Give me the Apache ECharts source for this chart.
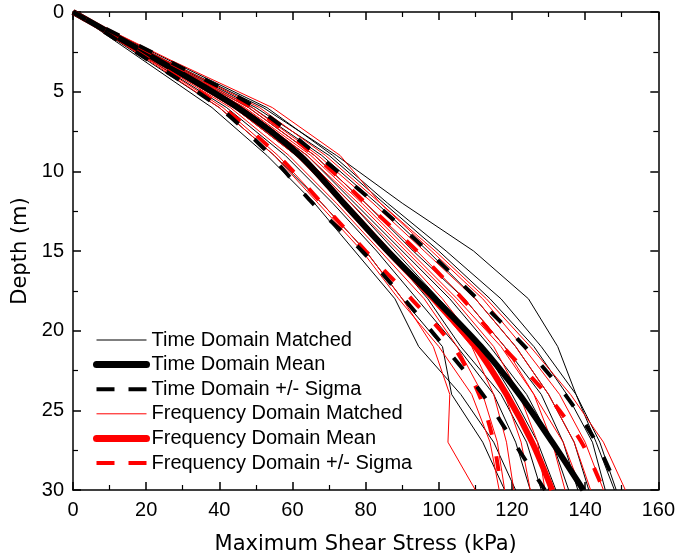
<!DOCTYPE html>
<html>
<head>
<meta charset="utf-8">
<script src="https://cdn.jsdelivr.net/npm/echarts@6/dist/echarts.min.js"></script>
<style>
html,body{margin:0;padding:0;background:#fff;}
#chart{width:678px;height:560px;}
</style>
</head>
<body>
<div id="chart"></div>
<script>
// Depths (m) at which each profile is sampled
const depths = [0, 3, 6, 9, 12, 15, 18, 21, 24, 27, 30];

// Time domain matched profiles (max shear stress, kPa)
const td1  = [0, 25, 52, 72, 90, 109.5, 124.5, 132.5, 137.5, 143, 148];
const td2  = [0, 19, 38, 53, 66, 77, 88, 94.5, 106, 115, 121];
const td3  = [0, 20, 40, 55, 68, 80, 90, 101, 103.5, 112, 118];
const td4  = [0, 21, 42, 58, 71, 83, 94, 105, 115, 121, 125];
const td5  = [0, 22, 44, 61, 74, 86, 97, 106, 117, 124, 128];
const td6  = [0, 22.5, 45, 63, 76, 88, 100, 112, 120, 127, 132];
const td7  = [0, 23, 46, 64, 77, 90, 103, 114, 124, 131, 135.5];
const td8  = [0, 24, 48, 66, 80, 93, 107, 118, 128, 134, 138];
const td9  = [0, 24.5, 49, 68, 83, 97, 110, 121, 130, 137, 141];
const td10 = [0, 25, 50, 70, 85, 100, 114, 126, 135, 142, 145.5];
const td11 = [0, 26, 53, 71, 86, 102, 117, 128, 137.5, 144, 148.5];

// Frequency domain matched profiles (kPa)
const fd1  = [0, 21, 41, 56, 68, 80, 90, 98.5, 103, 102.5, 110];
const fd2  = [0, 20.5, 40, 55, 67, 79, 89, 100, 109, 114, 116.5];
const fd3  = [0, 21.5, 43, 59, 72, 84, 96, 105, 112, 116, 118];
const fd4  = [0, 22, 44, 61, 74, 86, 98, 109, 115, 118.5, 120.5];
const fd5  = [0, 22.5, 45.5, 63, 76, 89, 101, 111, 118, 122.5, 125];
const fd6  = [0, 23, 46.5, 64, 78, 91, 104, 115, 122, 127, 129];
const fd7  = [0, 24, 48, 66, 80, 94, 107, 118, 126, 131, 134.5];
const fd8  = [0, 24.5, 49, 67, 82, 96, 110, 121, 130, 137, 141.5];
const fd9  = [0, 25, 51, 69, 84, 98, 112, 123, 133, 140, 145];
const fd10 = [0, 26.5, 54.5, 73, 84, 99, 113, 125, 136, 145, 151];
const fd11 = [0, 23.5, 47, 65, 79, 92, 105, 117, 126, 134, 139];

// Means and +/- sigma (kPa)
const tdMean  = [0, 23, 45, 62, 74, 86, 99, 111.5, 122, 131, 139.5];
const tdLower = [0, 20.5, 40, 54, 65.5, 79, 90.5, 101.5, 112, 120.5, 129];
const tdUpper = [0, 25.5, 50, 67, 82.5, 97, 110.5, 123.5, 134.5, 143, 149];
const fdMean  = [0, 23, 45, 62, 74, 86, 98.5, 110, 118.5, 125.5, 131];
const fdLower = [0, 21, 41, 56, 68, 80, 92.5, 104, 111, 115, 117];
const fdUpper = [0, 25, 49, 66, 80, 94, 106.5, 117.5, 129.5, 139, 145];

// Axis ticks
const xTicks = {min: 0, max: 160, interval: 20};
const yTicks = {min: 0, max: 30, interval: 5};

const names = ['Time Domain Matched', 'Time Domain Mean', 'Time Domain +/- Sigma',
               'Frequency Domain Matched', 'Frequency Domain Mean', 'Frequency Domain +/- Sigma'];

const DASH = [15, 22];

function pts(vals) { return vals.map((v, i) => [v, depths[i]]); }
function mk(name, vals, color, width, type, smooth, z) {
  return {
    type: 'line', name: name, data: pts(vals), symbol: 'none', showSymbol: false,
    smooth: smooth, z: z,
    lineStyle: {color: color, width: width, type: type, cap: 'butt'},
    itemStyle: {color: color},
    emphasis: {disabled: true}, silent: true, clip: true
  };
}

const series = [];
[td1, td2, td3, td4, td5, td6, td7, td8, td9, td10, td11].forEach(a => series.push(mk(names[0], a, '#000', 1, 'solid', false, 2)));
[fd1, fd2, fd3, fd4, fd5, fd6, fd7, fd8, fd9, fd10, fd11].forEach(a => series.push(mk(names[3], a, '#ff0000', 1, 'solid', false, 3)));
series.push(mk(names[4], fdMean, '#ff0000', 6, 'solid', 0.3, 4));
series.push(mk(names[1], tdMean, '#000', 6, 'solid', 0.3, 5));
series.push(mk(names[5], fdLower, '#ff0000', 4, DASH, 0.3, 6));
series.push(mk(names[5], fdUpper, '#ff0000', 4, DASH, 0.3, 6));
series.push(mk(names[2], tdLower, '#000', 4, DASH, 0.3, 7));
series.push(mk(names[2], tdUpper, '#000', 4, DASH, 0.3, 7));

const axisLineStyle = {color: '#000', width: 1.5};
const tickFont = {fontFamily: 'Liberation Sans, Arial, sans-serif', fontSize: 20, color: '#000'};
const noSym = {color: 'rgba(0,0,0,0)', borderColor: 'rgba(0,0,0,0)', borderWidth: 0};

const chart = echarts.init(document.getElementById('chart'), null, {renderer: 'canvas'});
chart.setOption({
  animation: false,
  backgroundColor: '#fff',
  grid: {left: 73, right: 18, top: 12, bottom: 69, containLabel: false},
  legend: {
    data: [
      {name: names[0], itemStyle: noSym, lineStyle: {color: '#000', width: 1, type: 'solid'}},
      {name: names[1], itemStyle: noSym, lineStyle: {color: '#000', width: 7, type: 'solid', cap: 'round'}},
      {name: names[2], itemStyle: noSym, lineStyle: {color: '#000', width: 4, type: [18, 14]}},
      {name: names[3], itemStyle: noSym, lineStyle: {color: '#ff0000', width: 1, type: 'solid'}},
      {name: names[4], itemStyle: noSym, lineStyle: {color: '#ff0000', width: 7, type: 'solid', cap: 'round'}},
      {name: names[5], itemStyle: noSym, lineStyle: {color: '#ff0000', width: 4, type: [18, 14]}}
    ],
    orient: 'vertical',
    left: 93, top: 330,
    itemWidth: 50, itemHeight: 14, itemGap: 4.6,
    textStyle: {fontFamily: 'Liberation Sans, Arial, sans-serif', fontSize: 20, color: '#000', lineHeight: 20},
    selectedMode: false,
    padding: 0
  },
  xAxis: [{
    type: 'value', position: 'bottom', min: xTicks.min, max: xTicks.max, interval: xTicks.interval,
    name: 'Maximum Shear Stress (kPa)', nameLocation: 'middle', nameGap: 44,
    nameTextStyle: {fontFamily: 'DejaVu Sans, sans-serif', fontSize: 21, color: '#000'},
    axisLine: {show: true, onZero: false, lineStyle: axisLineStyle},
    axisTick: {show: true, inside: true, length: 8, lineStyle: {color: '#000', width: 1.5}},
    minorTick: {show: true, splitNumber: 2, length: 5, lineStyle: {color: '#000', width: 1.2}},
    axisLabel: Object.assign({margin: 10}, tickFont),
    splitLine: {show: false}
  }, {
    type: 'value', position: 'top', min: xTicks.min, max: xTicks.max, interval: xTicks.interval,
    axisLine: {show: true, onZero: false, lineStyle: axisLineStyle},
    axisTick: {show: true, inside: true, length: 8, lineStyle: {color: '#000', width: 1.5}},
    minorTick: {show: true, splitNumber: 2, length: 5, lineStyle: {color: '#000', width: 1.2}},
    axisLabel: {show: false}, splitLine: {show: false}
  }],
  yAxis: [{
    type: 'value', position: 'left', inverse: true, min: yTicks.min, max: yTicks.max, interval: yTicks.interval,
    name: 'Depth (m)', nameLocation: 'middle', nameGap: 36, nameRotate: 90,
    nameTextStyle: {fontFamily: 'DejaVu Sans, sans-serif', fontSize: 21, color: '#000'},
    axisLine: {show: true, onZero: false, lineStyle: axisLineStyle},
    axisTick: {show: true, inside: true, length: 8, lineStyle: {color: '#000', width: 1.5}},
    minorTick: {show: true, splitNumber: 2, length: 5, lineStyle: {color: '#000', width: 1.2}},
    axisLabel: Object.assign({margin: 9}, tickFont),
    splitLine: {show: false}
  }, {
    type: 'value', position: 'right', inverse: true, min: yTicks.min, max: yTicks.max, interval: yTicks.interval,
    axisLine: {show: true, onZero: false, lineStyle: axisLineStyle},
    axisTick: {show: true, inside: true, length: 8, lineStyle: {color: '#000', width: 1.5}},
    minorTick: {show: true, splitNumber: 2, length: 5, lineStyle: {color: '#000', width: 1.2}},
    axisLabel: {show: false}, splitLine: {show: false}
  }],
  series: series
});
</script>
</body>
</html>
